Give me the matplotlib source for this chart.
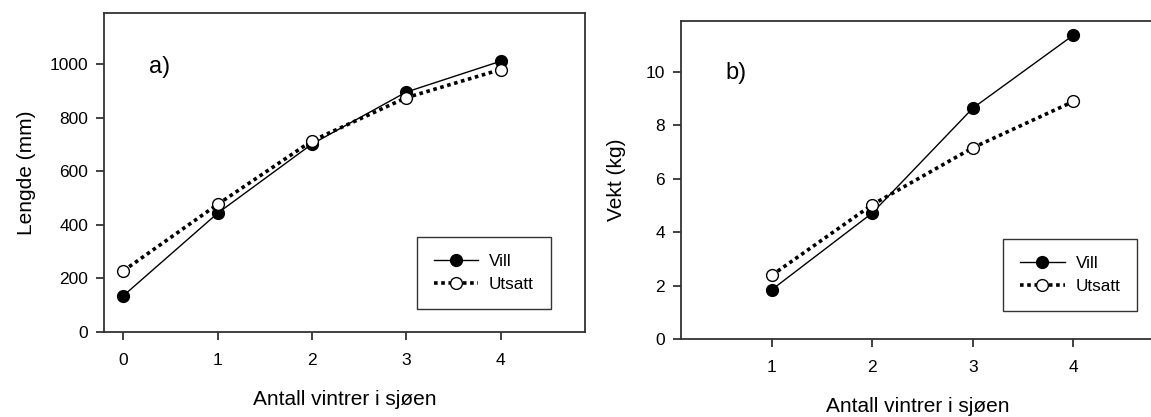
import matplotlib
matplotlib.use("Agg")
import matplotlib.pyplot as plt
from matplotlib.lines import Line2D

plt.rcParams['font.family'] = ['Liberation Sans', 'DejaVu Sans']

# Data
winters_a = [0, 1, 2, 3, 4]
length_vill = [135, 443, 701, 895, 1010]
length_utsatt = [228, 476, 713, 874, 979]

winters_b = [1, 2, 3, 4]
weight_vill = [1.84, 4.71, 8.63, 11.36]
weight_utsatt = [2.38, 5.02, 7.15, 8.88]

xlabel = "Antall vintrer i sjøen"
series_names = ["Vill", "Utsatt"]

W, H = 1151, 417
fig = plt.figure(figsize=(W / 100, H / 100), dpi=100)

spine_col = "#333333"

def style(ax):
    for s in ax.spines.values():
        s.set_linewidth(1.3)
        s.set_color(spine_col)
    ax.tick_params(direction='out', length=5.5, width=1.3, color=spine_col,
                   labelsize=12.5)
    ax.tick_params(axis='x', pad=9.5)
    ax.tick_params(axis='y', pad=6)

def plot_series(ax, x, yv, yu):
    ax.plot(x, yv, color='black', lw=1.0, marker='o', ms=8.5,
            mfc='black', mec='black', zorder=3)
    ax.plot(x, yu, color='black', lw=2.6, ls=(0, (1, 1)), marker='o', ms=8.5,
            mfc='white', mec='black', mew=1.0, zorder=4)

def legend(ax, loc_box):
    h1 = Line2D([], [], color='black', lw=1.0, marker='o', ms=8.5, mfc='black', mec='black')
    h2 = Line2D([], [], color='black', lw=2.6, ls=(0, (1, 1)), marker='o', ms=8.5,
                mfc='white', mec='black', mew=1.0)
    leg = ax.legend([h1, h2], series_names, loc='lower left', bbox_to_anchor=loc_box,
                    borderaxespad=0, frameon=True, fancybox=False, fontsize=12.3,
                    handlelength=2.6, handletextpad=0.64, borderpad=1.0,
                    labelspacing=0.45)
    leg.get_frame().set_edgecolor('black')
    leg.get_frame().set_linewidth(1.0)

# Left panel
ax1 = fig.add_axes([104.4 / W, (H - 332) / H, 481 / W, 319 / H])
plot_series(ax1, winters_a, length_vill, length_utsatt)
ax1.set_xlim(-0.2, 4.9)
ax1.set_ylim(0, 1190)
ax1.set_xticks(winters_a)
ax1.set_yticks([0, 200, 400, 600, 800, 1000])
style(ax1)
ax1.set_ylabel("Lengde (mm)", fontsize=15, labelpad=10)
ax1.set_xlabel(xlabel, fontsize=15, labelpad=16)
ax1.text(0.38, 989, "a)", fontsize=17, ha='center', va='center')
legend(ax1, ((416.5 - 104.4) / 481, (332 - 309) / 319))

# Right panel
ax2 = fig.add_axes([681.2 / W, (H - 339) / H, 472.6 / W, 318.3 / H])
plot_series(ax2, winters_b, weight_vill, weight_utsatt)
ax2.set_xlim(0.1, 4.8)
ax2.set_ylim(0, 11.9)
ax2.set_xticks(winters_b)
ax2.set_yticks([0, 2, 4, 6, 8, 10])
style(ax2)
ax2.set_ylabel("Vekt (kg)", fontsize=15, labelpad=14)
ax2.set_xlabel(xlabel, fontsize=15, labelpad=16)
ax2.text(0.645, 9.95, "b)", fontsize=17, ha='center', va='center')
legend(ax2, ((1003 - 681.2) / 472.6, (339 - 311) / 318.3))

fig.savefig("out.png", dpi=100)
